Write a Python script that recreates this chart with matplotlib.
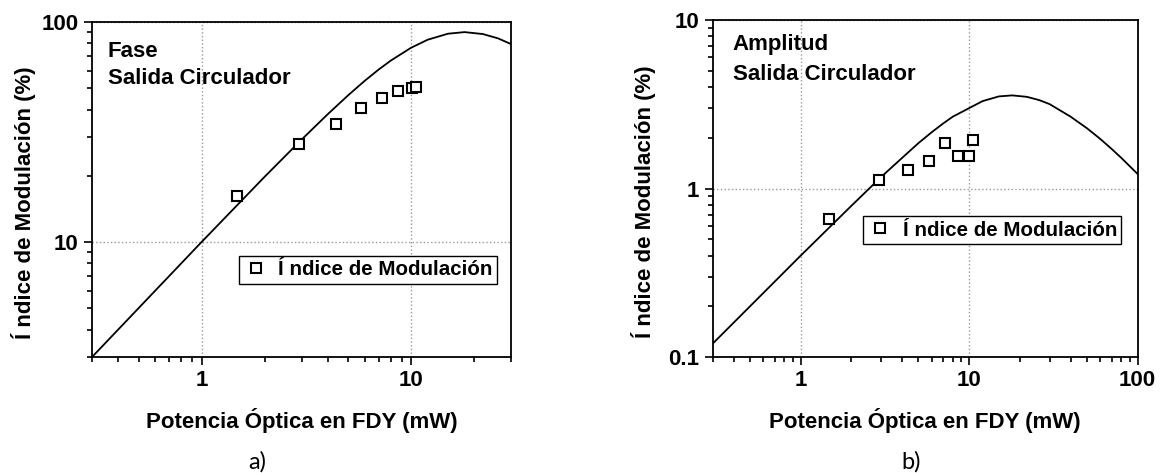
import matplotlib
matplotlib.use("Agg")
import matplotlib.pyplot as plt
from matplotlib.ticker import FuncFormatter

plt.rcParams['font.family'] = ['Liberation Sans', 'DejaVu Sans']
plt.rcParams['font.weight'] = 'bold'

# Curva teórica, fase (panel a)
fase_x = [0.3, 0.5, 1, 2, 3, 4, 5, 6, 7, 8, 10, 12, 15, 18, 22, 26, 30]
fase_y = [3.0, 5.0, 10.0, 19.8, 29.2, 38.1, 46.4, 54.0, 60.8, 66.8, 76.4, 83.1, 88.5, 90.0, 88.2, 84.3, 79.4]

# Medidas, fase
fase_px = [1.47, 2.93, 4.38, 5.78, 7.23, 8.66, 10.1, 10.6]
fase_py = [16.2, 27.9, 34.5, 40.6, 45.0, 48.5, 50.1, 50.8]

# Curva teórica, amplitud (panel b)
amp_x = [0.3, 0.5, 1, 2, 3, 4, 5, 6, 7, 8, 10, 12, 15, 18, 22, 26, 30, 40, 50, 60, 70, 80, 100]
amp_y = [0.12, 0.20, 0.40, 0.79, 1.17, 1.52, 1.86, 2.16, 2.43, 2.67, 3.0, 3.3, 3.52, 3.57, 3.5, 3.35, 3.17, 2.67, 2.28, 1.97, 1.72, 1.52, 1.22]

# Medidas, amplitud
amp_px = [1.47, 2.9, 4.33, 5.77, 7.19, 8.59, 10.0, 10.5]
amp_py = [0.66, 1.12, 1.29, 1.45, 1.85, 1.56, 1.57, 1.95]

etiqueta = "Í ndice de Modulación"
fs = 16

fig = plt.figure(figsize=(11.62, 4.73), dpi=100)
ax1 = fig.add_axes([0.0792, 0.2452, 0.3606, 0.7082])
ax2 = fig.add_axes([0.6133, 0.2452, 0.3657, 0.7125])


def estilo(ax, xlim, ylim, lineas, pos):
    ax.set_xscale('log')
    ax.set_yscale('log')
    ax.set_xlim(*xlim)
    ax.set_ylim(*ylim)
    ax.grid(which='major', ls=':', color='#999999', lw=1)
    ax.tick_params(which='both', direction='out', top=False, right=False,
                   labelsize=fs, width=1.2)
    ax.tick_params(which='major', length=6)
    ax.tick_params(which='minor', length=3.5)
    fmt = FuncFormatter(lambda v, p: '%g' % v)
    ax.xaxis.set_major_formatter(fmt)
    ax.yaxis.set_major_formatter(fmt)
    for lab in ax.get_xticklabels() + ax.get_yticklabels():
        lab.set_fontweight('bold')
    for s in ax.spines.values():
        s.set_linewidth(1.3)
    ax.set_xlabel("Potencia Óptica en FDY (mW)", fontsize=fs, fontweight='bold')
    ax.xaxis.set_label_coords(0.5, -0.152)
    ax.set_ylabel("Í ndice de Modulación (%)", fontsize=fs, fontweight='bold', va='center')
    ax.yaxis.set_label_coords(-0.163, 0.46)
    # textos de la esquina superior
    for txt, yy in zip(lineas, pos[1]):
        ax.text(pos[0], yy, txt, transform=ax.transAxes, fontsize=fs,
                fontweight='bold', va='center')
    leg = ax.legend(loc='upper left', bbox_to_anchor=pos[2],
                    borderaxespad=0, fancybox=False, edgecolor='black',
                    prop={'size': 14.8, 'weight': 'bold'}, handlelength=1.2,
                    handletextpad=0.5, borderpad=0.22, framealpha=1)
    leg.get_frame().set_linewidth(1.0)


ax1.plot(fase_x, fase_y, color='black', lw=1.3)
ax1.plot(fase_px, fase_py, ls='none', marker='s', ms=7.5, mfc='white',
         mec='black', mew=1.5, label=etiqueta)
estilo(ax1, (0.3, 30), (3, 100), ["Fase", "Salida Circulador"],
       (0.037, (0.912, 0.830), (0.35, 0.302)))

ax2.plot(amp_x, amp_y, color='black', lw=1.3)
ax2.plot(amp_px, amp_py, ls='none', marker='s', ms=7.5, mfc='white',
         mec='black', mew=1.5, label=etiqueta)
estilo(ax2, (0.3, 100), (0.1, 10), ["Amplitud", "Salida Circulador"],
       (0.047, (0.926, 0.837), (0.354, 0.418)))

fig.text(0.221, 0.024, "a)", fontsize=17, fontweight='normal', family='Lato', ha='center', va='center')
fig.text(0.784, 0.024, "b)", fontsize=17, fontweight='normal', family='Lato', ha='center', va='center')

fig.savefig("out.png", dpi=100)
